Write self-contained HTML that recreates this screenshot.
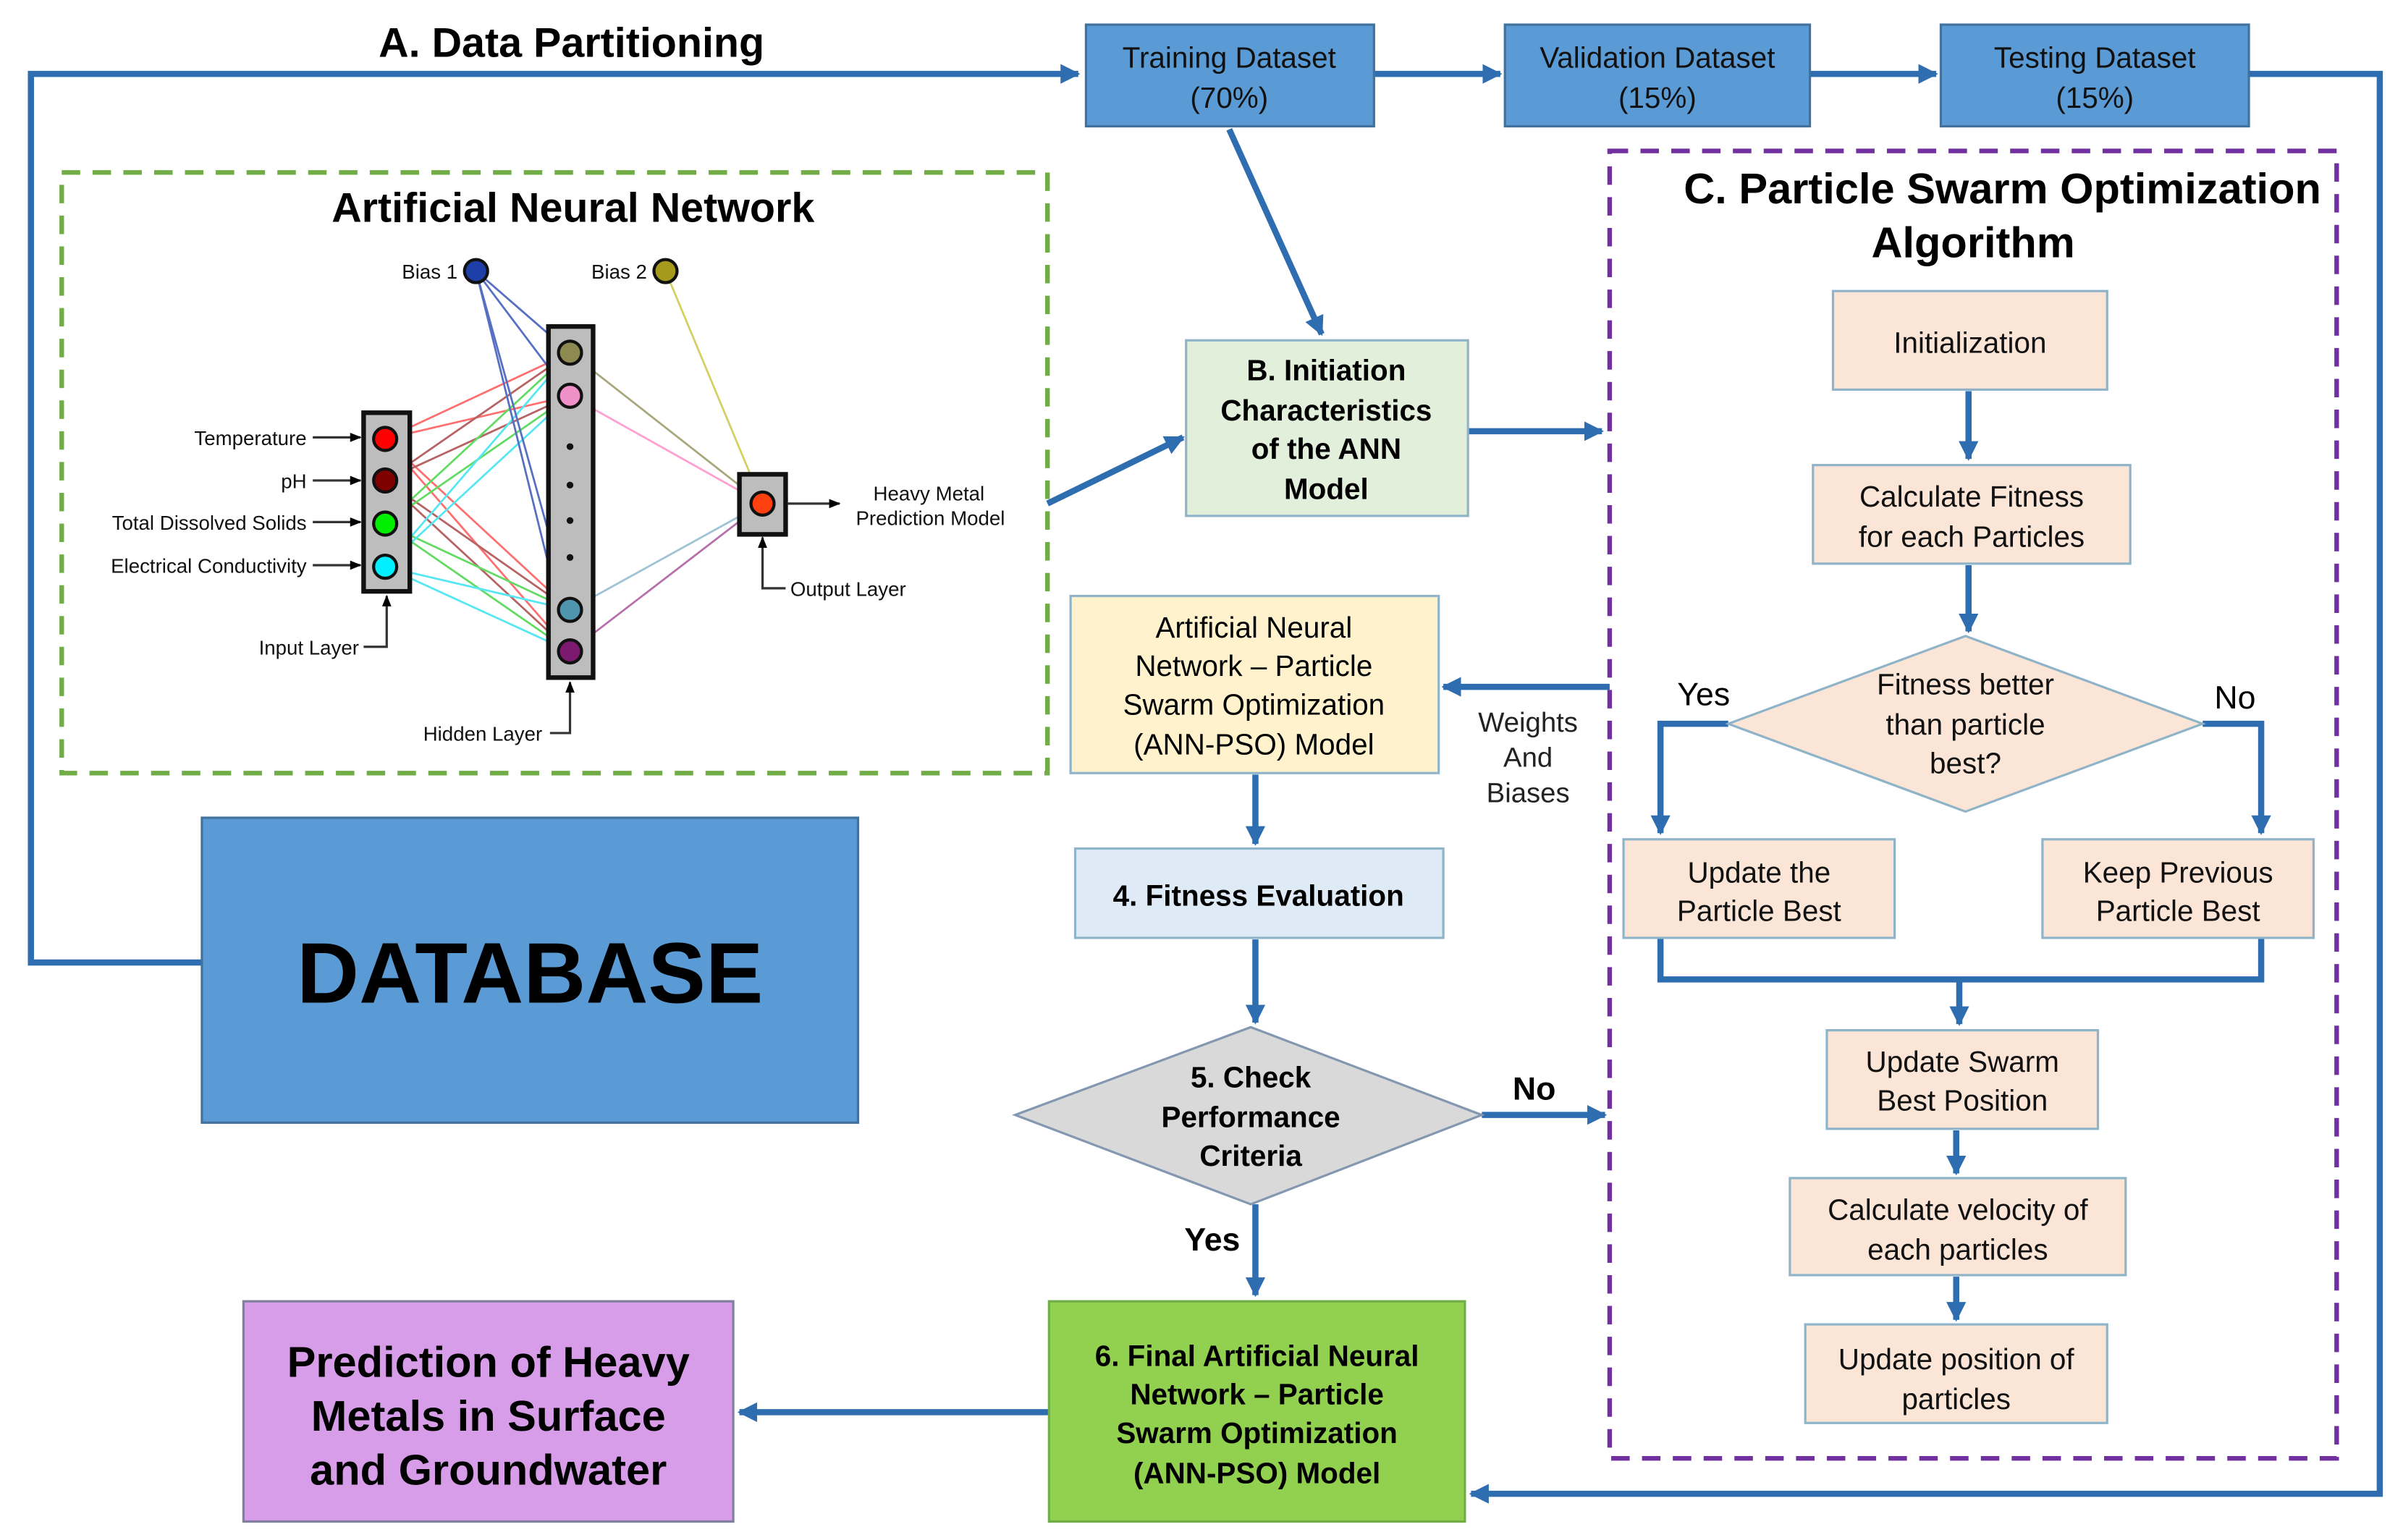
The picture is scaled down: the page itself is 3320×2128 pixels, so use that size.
<!DOCTYPE html>
<html><head><meta charset="utf-8"><style>
html,body{margin:0;padding:0;background:#fff}
svg{display:block}
text{font-family:"Liberation Sans",Arial,sans-serif}
</style></head><body>
<svg width="3320" height="2128" viewBox="0 0 1560 1000" xmlns="http://www.w3.org/2000/svg">
<defs>
<marker id="a" viewBox="0 0 10 10" refX="9" refY="5" markerWidth="3.2" markerHeight="3.2" orient="auto"><path d="M0,0L10,5L0,10z" fill="#2e6eb0"/></marker>
<marker id="k" viewBox="0 0 10 10" refX="9" refY="5" markerWidth="5" markerHeight="5" orient="auto"><path d="M0,1L10,5L0,9z" fill="#000"/></marker>
</defs>
<rect width="1560" height="1000" fill="#fff"/>
<g stroke="#2e6eb0" stroke-width="4" fill="none">
<polyline points="131,625 20,625 20,48 700,48" marker-end="url(#a)"/>
<line x1="892" y1="48" x2="974" y2="48" marker-end="url(#a)"/>
<line x1="1175" y1="48" x2="1257" y2="48" marker-end="url(#a)"/>
<polyline points="1460,48 1545,48 1545,970 955,970" marker-end="url(#a)"/>
<line x1="798" y1="84" x2="858" y2="217" marker-end="url(#a)"/>
<line x1="680" y1="327" x2="768" y2="284" marker-end="url(#a)"/>
<line x1="953" y1="280" x2="1040" y2="280" marker-end="url(#a)"/>
<line x1="1045" y1="446" x2="937" y2="446" marker-end="url(#a)"/>
<line x1="815" y1="503" x2="815" y2="548" marker-end="url(#a)"/>
<line x1="815" y1="610" x2="815" y2="664" marker-end="url(#a)"/>
<line x1="962" y1="724" x2="1042" y2="724" marker-end="url(#a)"/>
<line x1="815" y1="782" x2="815" y2="841" marker-end="url(#a)"/>
<line x1="681" y1="917" x2="480" y2="917" marker-end="url(#a)"/>
<line x1="1278" y1="254" x2="1278" y2="298" marker-end="url(#a)"/>
<line x1="1278" y1="367" x2="1278" y2="410" marker-end="url(#a)"/>
<polyline points="1122,470 1078,470 1078,541" marker-end="url(#a)"/>
<polyline points="1430,470 1468,470 1468,541" marker-end="url(#a)"/>
<polyline points="1078,609 1078,636 1468,636 1468,609"/>
<line x1="1272" y1="636" x2="1272" y2="665" marker-end="url(#a)"/>
<line x1="1270" y1="734" x2="1270" y2="762" marker-end="url(#a)"/>
<line x1="1270" y1="829" x2="1270" y2="857" marker-end="url(#a)"/>
</g>
<text x="371" y="37" font-size="27" font-weight="bold" text-anchor="middle">A. Data Partitioning</text>
<g stroke="#41719c" stroke-width="1.5" fill="#5b9bd5">
<rect x="705" y="16" width="187" height="66"/>
<rect x="977" y="16" width="198" height="66"/>
<rect x="1260" y="16" width="200" height="66"/>
<rect x="131" y="531" width="426" height="198"/>
</g>
<g font-size="19" text-anchor="middle" fill="#111">
<text x="798" y="44">Training Dataset</text><text x="798" y="70">(70%)</text>
<text x="1076" y="44">Validation Dataset</text><text x="1076" y="70">(15%)</text>
<text x="1360" y="44">Testing Dataset</text><text x="1360" y="70">(15%)</text>
</g>
<text x="344" y="651" font-size="56" font-weight="bold" text-anchor="middle">DATABASE</text>
<rect x="40" y="112" width="640" height="390" fill="none" stroke="#70ad47" stroke-width="3" stroke-dasharray="12,8"/>
<text x="372" y="144" font-size="27" font-weight="bold" text-anchor="middle">Artificial Neural Network</text>
<rect x="1045" y="98" width="472" height="849" fill="none" stroke="#7030a0" stroke-width="3" stroke-dasharray="12,8"/>
<text x="1300" y="132" font-size="28" font-weight="bold" text-anchor="middle">C. Particle Swarm Optimization</text>
<text x="1281" y="167" font-size="28" font-weight="bold" text-anchor="middle">Algorithm</text>
<rect x="770" y="221" width="183" height="114" fill="#e2efda" stroke="#8fb4c9" stroke-width="1.5"/>
<g font-size="19" font-weight="bold" text-anchor="middle"><text x="861" y="247">B. Initiation</text><text x="861" y="273">Characteristics</text><text x="861" y="298">of the ANN</text><text x="861" y="324">Model</text></g>
<rect x="695" y="387" width="239" height="115" fill="#fff2cc" stroke="#8fb4c9" stroke-width="1.5"/>
<g font-size="19" text-anchor="middle"><text x="814" y="414">Artificial Neural</text><text x="814" y="439">Network – Particle</text><text x="814" y="464">Swarm Optimization</text><text x="814" y="490">(ANN-PSO) Model</text></g>
<g font-size="18" text-anchor="middle" fill="#222"><text x="992" y="475">Weights</text><text x="992" y="498">And</text><text x="992" y="521">Biases</text></g>
<rect x="698" y="551" width="239" height="58" fill="#deebf7" stroke="#8fb4c9" stroke-width="1.5"/>
<text x="817" y="588" font-size="19" font-weight="bold" text-anchor="middle">4. Fitness Evaluation</text>
<polygon points="659,724 812,667 962,724 812,782" fill="#d9d9d9" stroke="#8497b0" stroke-width="1.5"/>
<g font-size="19" font-weight="bold" text-anchor="middle"><text x="812" y="706">5. Check</text><text x="812" y="732">Performance</text><text x="812" y="757">Criteria</text></g>
<text x="996" y="714" font-size="21" font-weight="bold" text-anchor="middle">No</text>
<text x="787" y="812" font-size="21" font-weight="bold" text-anchor="middle">Yes</text>
<rect x="681" y="845" width="270" height="143" fill="#92d050" stroke="#70ad47" stroke-width="1.5"/>
<g font-size="19" font-weight="bold" text-anchor="middle"><text x="816" y="887">6. Final Artificial Neural</text><text x="816" y="912">Network – Particle</text><text x="816" y="937">Swarm Optimization</text><text x="816" y="963">(ANN-PSO) Model</text></g>
<rect x="158" y="845" width="318" height="143" fill="#d89de8" stroke="#7f7f9f" stroke-width="1.5"/>
<g font-size="28" font-weight="bold" text-anchor="middle"><text x="317" y="894">Prediction of Heavy</text><text x="317" y="929">Metals in Surface</text><text x="317" y="964">and Groundwater</text></g>
<g fill="#fbe5d6" stroke="#8fb4c9" stroke-width="1.5">
<rect x="1190" y="189" width="178" height="64"/>
<rect x="1177" y="302" width="206" height="64"/>
<polygon points="1122,470 1276,413 1430,470 1276,527"/>
<rect x="1054" y="545" width="176" height="64"/>
<rect x="1326" y="545" width="176" height="64"/>
<rect x="1186" y="669" width="176" height="64"/>
<rect x="1162" y="765" width="218" height="63"/>
<rect x="1172" y="860" width="196" height="64"/>
</g>
<g font-size="19" text-anchor="middle" fill="#111">
<text x="1279" y="229">Initialization</text>
<text x="1280" y="329">Calculate Fitness</text><text x="1280" y="355">for each Particles</text>
<text x="1276" y="451">Fitness better</text><text x="1276" y="477">than particle</text><text x="1276" y="502">best?</text>
<text x="1142" y="573">Update the</text><text x="1142" y="598">Particle Best</text>
<text x="1414" y="573">Keep Previous</text><text x="1414" y="598">Particle Best</text>
<text x="1274" y="696">Update Swarm</text><text x="1274" y="721">Best Position</text>
<text x="1271" y="792">Calculate velocity of</text><text x="1271" y="818">each particles</text>
<text x="1270" y="889">Update position of</text><text x="1270" y="915">particles</text>
</g>
<text x="1106" y="458" font-size="21" text-anchor="middle">Yes</text>
<text x="1451" y="460" font-size="21" text-anchor="middle">No</text>
<!-- ANN diagram -->
<g stroke-width="1.3" fill="none" opacity="0.75">
<g stroke="#ff4040"><line x1="250" y1="285" x2="370" y2="229"/><line x1="250" y1="285" x2="370" y2="257"/><line x1="250" y1="285" x2="370" y2="396"/><line x1="250" y1="285" x2="370" y2="423"/></g>
<g stroke="#a03030"><line x1="250" y1="312" x2="370" y2="229"/><line x1="250" y1="312" x2="370" y2="257"/><line x1="250" y1="312" x2="370" y2="396"/><line x1="250" y1="312" x2="370" y2="423"/></g>
<g stroke="#30d030"><line x1="250" y1="340" x2="370" y2="229"/><line x1="250" y1="340" x2="370" y2="257"/><line x1="250" y1="340" x2="370" y2="396"/><line x1="250" y1="340" x2="370" y2="423"/></g>
<g stroke="#20e0f0"><line x1="250" y1="368" x2="370" y2="229"/><line x1="250" y1="368" x2="370" y2="257"/><line x1="250" y1="368" x2="370" y2="396"/><line x1="250" y1="368" x2="370" y2="423"/></g>
<g stroke="#2040b0"><line x1="309" y1="176" x2="370" y2="229"/><line x1="309" y1="176" x2="370" y2="257"/><line x1="309" y1="176" x2="370" y2="396"/><line x1="309" y1="176" x2="370" y2="423"/></g>
<line x1="370" y1="229" x2="495" y2="327" stroke="#8c8a4f"/>
<line x1="370" y1="257" x2="495" y2="327" stroke="#ff80c0"/>
<line x1="370" y1="396" x2="495" y2="327" stroke="#80b0c8"/>
<line x1="370" y1="423" x2="495" y2="327" stroke="#a04090"/>
<line x1="432" y1="176" x2="495" y2="327" stroke="#c8c030"/>
</g>
<g stroke="#111" stroke-width="3" fill="#bdbdbd">
<rect x="236" y="268" width="30" height="116"/>
<rect x="356" y="212" width="29" height="228"/>
<rect x="480" y="308" width="30" height="39"/>
</g>
<g stroke="#111" stroke-width="2">
<circle cx="250" cy="285" r="7.5" fill="#ff0000"/>
<circle cx="250" cy="312" r="7.5" fill="#800000"/>
<circle cx="250" cy="340" r="7.5" fill="#00ee00"/>
<circle cx="250" cy="368" r="7.5" fill="#00f0ff"/>
<circle cx="370" cy="229" r="7.5" fill="#8c8a4f"/>
<circle cx="370" cy="257" r="7.5" fill="#f090c8"/>
<circle cx="370" cy="396" r="7.5" fill="#4f95ad"/>
<circle cx="370" cy="423" r="7.5" fill="#7b1a6e"/>
<circle cx="495" cy="327" r="7.5" fill="#ff4010"/>
<circle cx="309" cy="176" r="7.5" fill="#1f3fa8"/>
<circle cx="432" cy="176" r="7.5" fill="#a59a1c"/>
</g>
<g fill="#111"><circle cx="370" cy="290" r="2.2"/><circle cx="370" cy="315" r="2.2"/><circle cx="370" cy="338" r="2.2"/><circle cx="370" cy="362" r="2.2"/></g>
<g stroke="#333" stroke-width="1.5" fill="none">
<line x1="203" y1="284" x2="234" y2="284" marker-end="url(#k)"/>
<line x1="203" y1="312" x2="234" y2="312" marker-end="url(#k)"/>
<line x1="203" y1="339" x2="234" y2="339" marker-end="url(#k)"/>
<line x1="203" y1="367" x2="234" y2="367" marker-end="url(#k)"/>
<line x1="511" y1="327" x2="545" y2="327" marker-end="url(#k)"/>
<polyline points="236,420 251,420 251,387" marker-end="url(#k)"/>
<polyline points="357,476 370,476 370,443" marker-end="url(#k)"/>
<polyline points="510,382 495,382 495,349" marker-end="url(#k)"/>
</g>
<g font-size="13" fill="#111" text-anchor="end">
<text x="199" y="289">Temperature</text><text x="199" y="317">pH</text><text x="199" y="344">Total Dissolved Solids</text><text x="199" y="372">Electrical Conductivity</text>
<text x="233" y="425">Input Layer</text><text x="352" y="481">Hidden Layer</text>
<text x="297" y="181">Bias 1</text><text x="420" y="181">Bias 2</text>
</g>
<g font-size="13" fill="#111"><text x="513" y="387">Output Layer</text></g>
<g font-size="13" fill="#111" text-anchor="middle"><text x="603" y="325">Heavy Metal</text><text x="604" y="341">Prediction Model</text></g>
</svg>
</body></html>
